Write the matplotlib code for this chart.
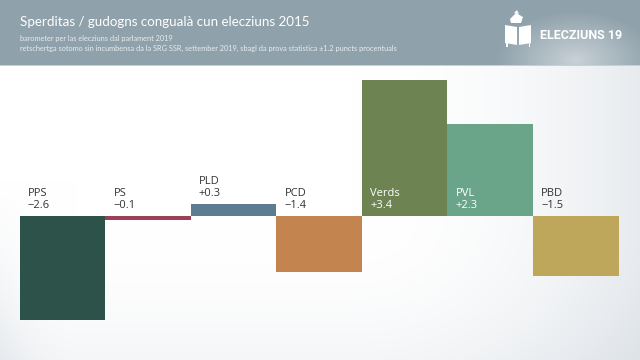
import numpy as np
import matplotlib
matplotlib.use("Agg")
import matplotlib.pyplot as plt
from matplotlib.patches import Rectangle, Polygon

parties = ["PPS", "PS", "PLD", "PCD", "Verds", "PVL", "PBD"]
changes = [-2.6, -0.1, 0.3, -1.4, 3.4, 2.3, -1.5]
value_labels = ["\u22122.6", "\u22120.1", "+0.3", "\u22121.4", "+3.4", "+2.3", "\u22121.5"]
colors = ["#2c5249", "#9c3f59", "#5d7b91", "#c4844f", "#6d8452", "#6aa58a", "#bea65a"]

title = "Sperditas / gudogns congualà cun elecziuns 2015"
subtitle1 = "barometer per las elecziuns dal parlament 2019"
subtitle2 = ("retschertga sotomo sin incumbensa da la SRG SSR, settember 2019, "
             "sbagl da prova statistica \u00b11.2 puncts procentuals")
logo_text = "ELECZIUNS 19"

W, H = 640, 360
fig = plt.figure(figsize=(6.4, 3.6), dpi=100)

# background gradient (figure-wide)
bg = fig.add_axes([0, 0, 1, 1])
bg.set_axis_off()
yy, xx = np.mgrid[0:H, 0:W]
fx = xx / W
fy = yy / H
shade = (np.clip((fx - 0.55) / 0.45, 0, 1) ** 2 * 0.13
         + np.clip((fy - 0.6) / 0.4, 0, 1) ** 2 * 0.06
         + np.clip((0.12 - fx) / 0.12, 0, 1) ** 2 * np.clip((fy - 0.5) / 0.5, 0, 1) * 0.08)
shade = np.clip(shade, 0, 0.2)
base = np.array([1.0, 1.0, 1.0])
dark = np.array([0.80, 0.83, 0.86])
t = (shade / 0.2)[..., None] * 0.7
img = base * (1 - t) + dark * t
# header band
hdr = np.array([0x8f, 0xa1, 0xab]) / 255.0
glow = np.array([0xd6, 0xdd, 0xe1]) / 255.0
d = np.sqrt(((xx - 575) / 80.0) ** 2 + ((yy - 60) / 50.0) ** 2)
g = np.clip(1 - d, 0, 1)[..., None] * 0.8
hdr_img = hdr * (1 - g) + glow * g
mask = (yy < 65)[..., None]
img = np.where(mask, hdr_img, img)
edge = (yy == 65)[..., None]
img = np.where(edge, np.array([0.78, 0.82, 0.84]), img)
bg.imshow(img, extent=[0, W, H, 0], aspect="auto", interpolation="bilinear")
bg.set_xlim(0, W)
bg.set_ylim(H, 0)

# header texts
bg.text(20, 26, title, fontsize=9.6, color="white", family="Lato", va="baseline", ha="left")
bg.text(20, 41, subtitle1, fontsize=5.3, color="#e8edf0", family="Lato", va="baseline")
bg.text(20, 51, subtitle2, fontsize=5.3, color="#e8edf0", family="Lato", va="baseline")

# logo
bg.add_patch(Polygon([[505, 25], [517, 27], [517, 45], [505, 43]], closed=True, color="white", lw=0))
bg.add_patch(Polygon([[519, 27], [531, 25], [531, 43], [519, 45]], closed=True, color="white", lw=0))
bg.add_patch(Rectangle((506, 43), 1.5, 4, color="white", lw=0))
bg.add_patch(Rectangle((528.5, 43), 1.5, 4, color="white", lw=0))
bg.add_patch(Polygon([[510, 19], [516, 13], [523, 17], [521, 23], [511, 23]], closed=True, color="white", lw=0))
bg.add_patch(Polygon([[514, 13], [517, 10], [519, 14]], closed=True, color="white", lw=0))
bg.text(540, 39, logo_text, fontsize=9, color="white", family="Roboto", weight="bold",
        va="baseline", ha="left")

# chart axes: zero line at y=216px, 40 px per unit
zero_px = 216
ppu = 40.0
top_px, bot_px = 66, 360
ax = fig.add_axes([19.5 / W, 0, (618.5 - 19.5) / W, (H - top_px) / H])
ax.set_axis_off()
ax.patch.set_alpha(0)
ax.set_xlim(-0.5, len(parties) - 0.5)
ax.set_ylim(-(bot_px - zero_px) / ppu, (zero_px - top_px) / ppu)

x = np.arange(len(parties))
ax.bar(x, changes, width=1.0, color=colors, linewidth=0)

for i, (p, v, lab) in enumerate(zip(parties, changes, value_labels)):
    inside = v > 1
    anchor = v if 0 < v <= 1 else 0
    col = "white" if inside else "#333333"
    ax.annotate(f"{p}\n{lab}", xy=(i - 0.5, anchor), xytext=(6, 3.5), textcoords="offset points",
                ha="left", va="bottom", fontsize=8, color=col, family="Open Sans",
                linespacing=1.15)

fig.savefig("out.png", dpi=100)
